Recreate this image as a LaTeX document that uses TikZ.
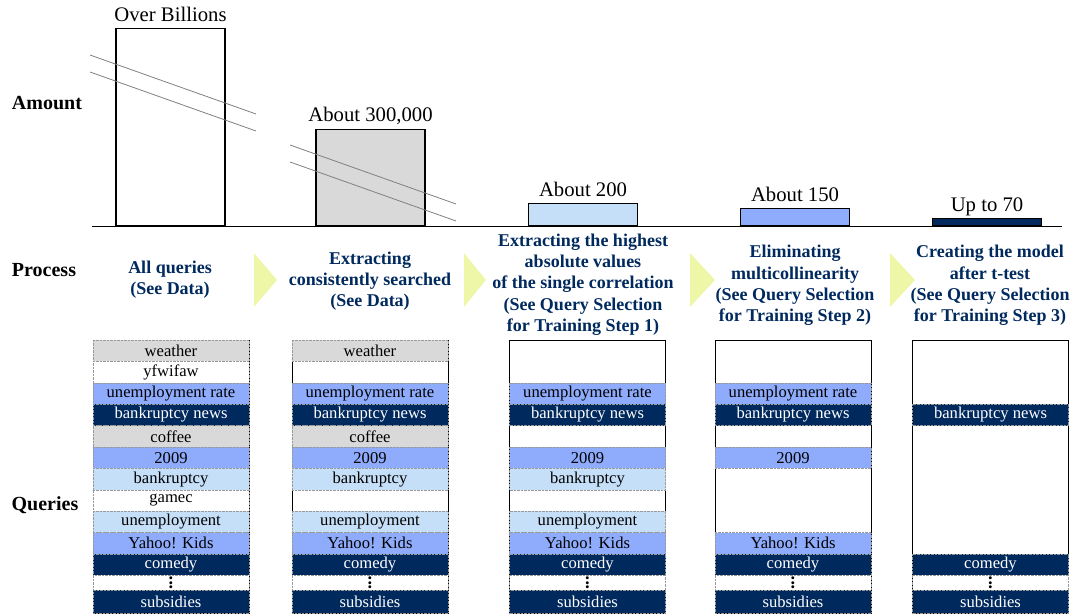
\documentclass[tikz,border=0pt]{standalone}
\usepackage{fontspec}
\setmainfont{Liberation Serif}
\usetikzlibrary{positioning}
\definecolor{navy}{RGB}{0,41,94}
\definecolor{midblue}{RGB}{143,171,251}
\definecolor{paleblue}{RGB}{198,223,248}
\definecolor{qgray}{RGB}{217,217,217}
\definecolor{stepyellow}{RGB}{238,247,168}

\begin{document}
\begin{tikzpicture}[x=1pt, y=-1pt,
       bar/.style = {draw, line width=1.4pt, minimum width=109pt, inner sep=0pt, anchor=south},
  barlabel/.style = {font=\fontsize{20.7}{24}\selectfont},
      side/.style = {font=\bfseries\fontsize{20}{24}\selectfont},
   process/.style = {align=center, text=navy, font=\bfseries\fontsize{18}{21.3}\selectfont},
     frame/.style = {draw, line width=0.8pt, fill=white, minimum width=156pt, minimum height=273pt, inner sep=0pt},
     qcell/.style = {draw=gray!80, densely dotted, minimum width=156pt, minimum height=21.4pt, inner sep=0pt,
                     font=\fontsize{16.6}{19}\selectfont},
      grey/.style = {qcell, fill=qgray},
      pale/.style = {qcell, fill=paleblue},
       mid/.style = {qcell, fill=midblue},
      dark/.style = {qcell, fill=navy, text=white},
      dots/.style = {qcell, minimum height=15pt, fill=white, font=\bfseries\fontsize{18}{18}\selectfont},
      last/.style = {dark, minimum height=22.6pt},
  stepmark/.style = {fill=stepyellow},
 breakline/.style = {draw=gray, line width=0.8pt}
                    ]
  \useasboundingbox (0,0) rectangle (1073,615);
  % row titles
  \node [side] (amount)  at (47,103) {Amount};
  \node [side] (process) at (44,270) {Process};
  \node [side] (queries) at (45,505) {Queries};
  % amounts
  \node [bar, minimum height=197pt]             (b1) at (170.5,226) {};
  \node [bar, minimum height=96pt, fill=qgray]  (b2) at (370.5,226) {};
  \node [bar, minimum height=22pt, fill=paleblue] (b3) at (583,226) {};
  \node [bar, minimum height=17pt, fill=midblue]  (b4) at (795,226) {};
  \node [bar, minimum height=7pt, fill=navy]      (b5) at (987,226) {};
  \node [barlabel, above=6pt of b1.north, anchor=base] (l1) {Over Billions};
  \node [barlabel, above=7pt of b2.north, anchor=base] (l2) {About 300,000};
  \node [barlabel, above=6pt of b3.north, anchor=base] (l3) {About 200};
  \node [barlabel, above=6pt of b4.north, anchor=base] (l4) {About 150};
  \node [barlabel, above=6pt of b5.north, anchor=base] (l5) {Up to 70};
  \draw (92,226) -- (1062,226);
  % breaks
  \draw [breakline] (90,55) -- (256,114);
  \draw [breakline] (90,72) -- (256,131);
  \draw [breakline] (290,145) -- (456,204);
  \draw [breakline] (290,162) -- (456,221);
  %---
  \node [process] (p1) at (170,280)   {All queries\\(See Data)};
  \node [process] (p2) at (370,281)   {Extracting\\consistently searched\\(See Data)};
  \node [process] (p3) at (583,284.5) {Extracting the highest\\absolute values\\of the single correlation\\(See Query Selection\\for Training Step 1)};
  \node [process] (p4) at (795,285.5) {Eliminating\\multicollinearity\\(See Query Selection\\for Training Step 2)};
  \node [process] (p5) at (990,285.5) {Creating the model\\after t-test\\(See Query Selection\\for Training Step 3)};
  \fill [stepmark] (254,253) -- (277,280) -- (254,307) -- cycle;
  \fill [stepmark] (464,253) -- (486,280) -- (464,307) -- cycle;
  \fill [stepmark] (690,253) -- (715,280) -- (690,307) -- cycle;
  \fill [stepmark] (890,253) -- (915,280) -- (890,307) -- cycle;
  %%%%%% queries
  \node [frame] (f1) at (171,476.5) {};
  \node [frame] (f2) at (370,476.5) {};
  \node [frame] (f3) at (587.5,476.5) {};
  \node [frame] (f4) at (793,476.5) {};
  \node [frame] (f5) at (990.5,476.5) {};
  % all queries
  \node [grey] (weather1) at (171,350.7) {weather};
  \node [qcell, fill=white] (yfwifaw1) at (171,372.1) {yfwifaw};
  \node [mid]  (unrate1) at (171,393.5) {unemployment rate};
  \node [dark] (bnews1)  at (171,414.9) {bankruptcy news};
  \node [grey] (coffee1) at (171,436.3) {coffee};
  \node [mid]  (yr1)     at (171,457.7) {2009};
  \node [pale] (bankr1)  at (171,479.1) {bankruptcy};
  \node [qcell, fill=white] (gamec1) at (171,500.5) {gamec};
  \node [pale] (unemp1)  at (171,521.9) {unemployment};
  \node [mid]  (yahoo1)  at (171,543.3) {Yahoo! Kids};
  \node [dark] (comedy1) at (171,564.7) {comedy};
  \node [dots] (more1)   at (171,582.9) {\rotatebox{90}{...}};
  \node [last] (subs1)   at (171,601.7) {subsidies};
  % consistently searched
  \node [grey] (weather2) at (370,350.7) {weather};
  \node [mid]  (unrate2) at (370,393.5) {unemployment rate};
  \node [dark] (bnews2)  at (370,414.9) {bankruptcy news};
  \node [grey] (coffee2) at (370,436.3) {coffee};
  \node [mid]  (yr2)     at (370,457.7) {2009};
  \node [pale] (bankr2)  at (370,479.1) {bankruptcy};
  \node [pale] (unemp2)  at (370,521.9) {unemployment};
  \node [mid]  (yahoo2)  at (370,543.3) {Yahoo! Kids};
  \node [dark] (comedy2) at (370,564.7) {comedy};
  \node [dots] (more2)   at (370,582.9) {\rotatebox{90}{...}};
  \node [last] (subs2)   at (370,601.7) {subsidies};
  % step 1
  \node [mid]  (unrate3) at (587.5,393.5) {unemployment rate};
  \node [dark] (bnews3)  at (587.5,414.9) {bankruptcy news};
  \node [mid]  (yr3)     at (587.5,457.7) {2009};
  \node [pale] (bankr3)  at (587.5,479.1) {bankruptcy};
  \node [pale] (unemp3)  at (587.5,521.9) {unemployment};
  \node [mid]  (yahoo3)  at (587.5,543.3) {Yahoo! Kids};
  \node [dark] (comedy3) at (587.5,564.7) {comedy};
  \node [dots] (more3)   at (587.5,582.9) {\rotatebox{90}{...}};
  \node [last] (subs3)   at (587.5,601.7) {subsidies};
  % step 2
  \node [mid]  (unrate4) at (793,393.5) {unemployment rate};
  \node [dark] (bnews4)  at (793,414.9) {bankruptcy news};
  \node [mid]  (yr4)     at (793,457.7) {2009};
  \node [mid]  (yahoo4)  at (793,543.3) {Yahoo! Kids};
  \node [dark] (comedy4) at (793,564.7) {comedy};
  \node [dots] (more4)   at (793,582.9) {\rotatebox{90}{...}};
  \node [last] (subs4)   at (793,601.7) {subsidies};
  % step 3
  \node [dark] (bnews5)  at (990.5,414.9) {bankruptcy news};
  \node [dark] (comedy5) at (990.5,564.7) {comedy};
  \node [dots] (more5)   at (990.5,582.9) {\rotatebox{90}{...}};
  \node [last] (subs5)   at (990.5,601.7) {subsidies};
\end{tikzpicture}
\end{document}
